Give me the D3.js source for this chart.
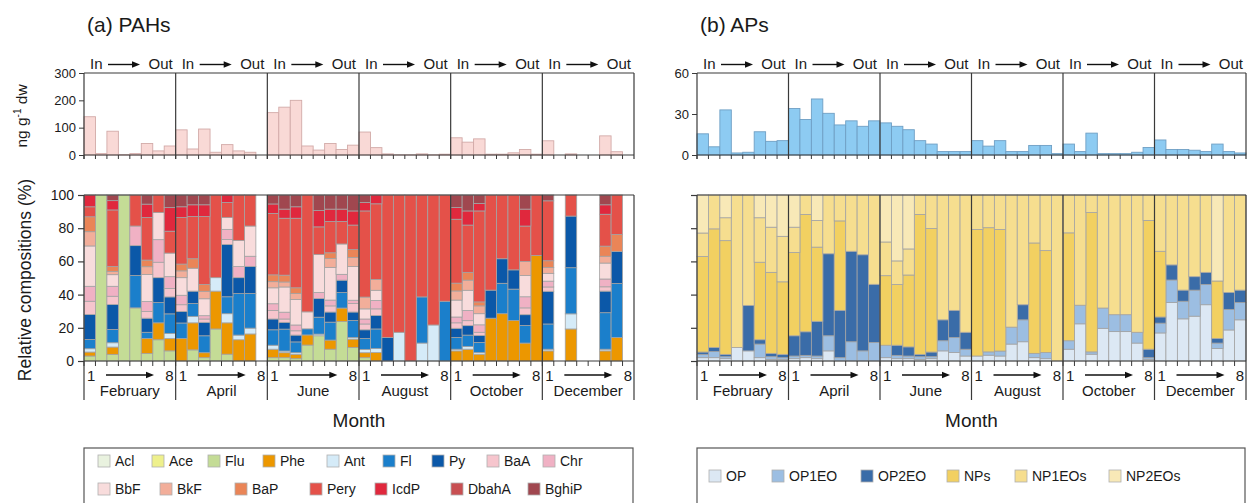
<!DOCTYPE html>
<html>
<head>
<meta charset="utf-8">
<script src="https://cdn.jsdelivr.net/npm/d3@7"></script>
<style>
  body { margin: 0; background: #fff; }
  svg text { font-family: 'Liberation Sans', Arial, sans-serif; fill: #1a1a1a; }
</style>
</head>
<body>
<svg id="chart" width="1247" height="503"></svg>
<script>
// ---- data -------------------------------------------------------------
const months = ["February", "April", "June", "August", "October", "December"];
const sitesPerMonth = 8;

const pahNames = ["Acl", "Ace", "Flu", "Phe", "Ant", "Fl", "Py", "BaA", "Chr",
                  "BbF", "BkF", "BaP", "Pery", "IcdP", "DbahA", "BghiP"];
const pahColors = ["#e9f2df", "#eef08c", "#c4dc96", "#ec9700", "#d5ebf8", "#1b7fcb",
                   "#0b58a8", "#f6c5cd", "#f0b1c4", "#f8dcdc", "#f2ae9a", "#ea8557",
                   "#e45149", "#e0283d", "#c84f52", "#a0474f"];

const apNames = ["OP", "OP1EO", "OP2EO", "NPs", "NP1EOs", "NP2EOs"];
const apColors = ["#dce8f4", "#9cbee2", "#3a6ca8", "#f2d061", "#f6de8f", "#f8e9b7"];

// total concentrations (ng g-1 dw), 8 sites per month
const pahTotals = [
  140, 5, 87, 1, 5, 42, 15, 33,
  92, 22, 95, 10, 38, 15, 10, 0,
  155, 175, 200, 33, 18, 42, 20, 36,
  84, 27, 4, 0.5, 0.5, 4, 0.5, 3,
  63, 47, 59, 3, 3, 8, 20, 3,
  52, 0, 4, 0, 0, 70, 12, 0
];
const apTotals = [
  15.5, 6, 33, 1.5, 2, 17, 10, 10.5,
  34, 26, 41, 30.5, 22, 25, 21, 25,
  23.5, 21, 18.5, 10.5, 8, 2.5, 2.5, 2.5,
  10.5, 6.5, 10.5, 2.5, 2.5, 7, 7, 1,
  8, 2.5, 16, 1, 1, 1, 2, 5.5,
  11, 4, 4, 3.5, 2.5, 8, 2.5, 1.5
];

// relative composition of PAHs (%), null = no sample
const pahComp = [
  // February
  {Flu:3, Phe:2.4, Ant:2, Fl:5.6, Py:15, BaA:8, Chr:9, BbF:24.3, BkF:8.6, BaP:9, Pery:6, IcdP:7.1},
  {Flu:100},
  {Flu:4, Phe:4.4, Ant:2.6, Fl:8, Py:15, BaA:5, Chr:6, BbF:7, BkF:2, BaP:3, Pery:34, IcdP:5.6, BghiP:3.4},
  {Flu:100},
  {Flu:32, Fl:19.5, Py:18, Chr:11.8, Pery:18.7},
  {Flu:4.5, Phe:9.1, Fl:3.7, Py:8.5, BaA:4, Chr:6, BbF:16.3, BkF:4.7, BaP:4, Pery:25.6, IcdP:8.1, BghiP:5.5},
  {Flu:12.8, Phe:10.2, Fl:12.2, Py:15, BaA:9.3, Chr:13.6, BbF:16.3, Pery:10.6},
  {Flu:6.1, Phe:7.5, Ant:3, Fl:11.8, Py:10.2, BaA:5.1, Chr:7.1, BbF:14.2, Pery:13.2, IcdP:14.2, BghiP:7.6},
  // April
  {Phe:13.6, Fl:9.3, Py:6.9, BaA:4.1, Chr:5.7, BbF:10.6, BkF:4.1, BaP:4.1, Pery:28, IcdP:6.5, BghiP:7.1},
  {Flu:6.7, Phe:16.3, Ant:3.9, Fl:7.7, Py:7.5, BbF:13.8, BaP:5.7, Pery:25.4, IcdP:7.1, BghiP:5.9},
  {Flu:2, Phe:3, Fl:10.2, Py:8.1, BaA:2, Chr:2, BbF:10.2, BkF:4.5, BaP:4.1, Pery:40.9, IcdP:7.1, BghiP:5.9},
  {Flu:19.3, Phe:22.8, Ant:8.1, Pery:49.8},
  {Flu:4.1, Phe:18.9, Ant:5.5, Fl:10.2, Py:31.5, BaA:3, Chr:6.1, BbF:7.1, Pery:9.1, IcdP:4.5},
  {Phe:12.8, Ant:2.8, Fl:25, Py:9.6, Chr:6.7, BbF:15.7, Pery:27.4},
  {Phe:16.3, Ant:3.5, Fl:20.9, Py:16.3, Chr:6.1, BbF:18.2, Pery:18.7},
  null,
  // June
  {Flu:2, Phe:5.1, Ant:2.4, Fl:9.3, Py:6.5, BaA:5.1, Chr:4.1, BbF:9.6, BkF:3.7, BaP:4.1, Pery:37, IcdP:5.7, BghiP:5.4},
  {Flu:2, Phe:3, Ant:1, Fl:13.2, Py:4.1, BaA:2, Chr:4.1, BbF:15.2, BkF:3, BaP:4.1, Pery:34.3, IcdP:5.5, BghiP:8.5},
  {Flu:1.4, Phe:2.6, Ant:1, Fl:6.5, Py:4.1, BaA:2.6, Chr:3.5, BbF:15.4, BkF:3.5, BaP:3.5, Pery:41.9, IcdP:6.9, BghiP:7.1},
  {Flu:9.6, Phe:6.1, Fl:3.7, BbF:10.2, Pery:70.4},
  {Flu:15.2, Ant:1, Fl:10.2, Py:11.2, Chr:3.7, BbF:22.8, Pery:16.7, IcdP:9.8, BghiP:9.4},
  {Flu:7.1, Phe:5.5, Fl:10.8, Py:6.1, BaA:3.7, Chr:3.5, BbF:19.7, BkF:5.3, BaP:3.5, Pery:18.8, IcdP:7.5, BghiP:8.5},
  {Flu:23.8, Phe:8.1, Fl:9.3, Py:7.5, Chr:3.5, BbF:18.3, Pery:13.5, IcdP:7.5, BghiP:8.5},
  {Flu:8.1, Phe:5.1, Ant:1, Fl:10.2, Py:5.1, BaA:5.1, Chr:2, BbF:20.3, BkF:5.5, BaP:4.7, Pery:14.8, IcdP:8.5, BghiP:9.6},
  // August
  {Flu:2, Phe:3, Ant:2, Fl:6.5, Py:5.3, BaA:3.5, Chr:3, BbF:6.1, BkF:7.1, Pery:51.9, IcdP:5.1, BghiP:4.5},
  {Phe:5.1, Ant:2.4, Fl:11.8, Py:8.1, BaA:4, Chr:5, BbF:6.2, BkF:6.5, Pery:45.6, IcdP:5.3},
  {Py:14.2, Pery:85.8},
  {Ant:17.3, Pery:82.7},
  {Pery:100},
  {Ant:10.8, Fl:27.8, Pery:61.4},
  {Ant:21.7, Pery:78.3},
  {Fl:36, Pery:64},
  // October
  {Phe:6.1, Ant:1, Fl:7.1, Py:5.5, BaA:3.3, Chr:3.5, BbF:10.2, BkF:5.5, BaP:4.7, Pery:38.5, IcdP:7.1, BghiP:7.5},
  {Phe:7.1, Ant:1.6, Fl:6.9, Py:5.7, BaA:3, Chr:6.1, BbF:12.2, BkF:6.1, BaP:4.7, Pery:28.5, IcdP:8.5, BghiP:9.6},
  {Phe:4.1, Ant:1, Fl:6.1, Py:4.1, BaA:2, Chr:4.5, BbF:6.7, BkF:4.7, BaP:2.4, Pery:54.8, IcdP:4.5, BghiP:5.1},
  {Phe:25.8, Py:16.9, Pery:57.3},
  {Phe:28.5, Fl:18.3, Py:14.8, Pery:38.4},
  {Phe:24.4, Fl:18.9, Py:11.6, Pery:45.1},
  {Phe:10.8, Fl:10.6, Py:6.5, BaA:4.1, Chr:6.7, BbF:12.8, BkF:8.5, Pery:21.3, IcdP:10.2, BghiP:8.5},
  {Phe:63.6, Pery:36.4},
  // December
  {Phe:6.1, Ant:1, Fl:15.2, Py:19.7, BaA:2.6, Chr:3.5, BbF:4.7, BkF:3.5, BaP:4.1, Pery:36.1, BghiP:3.5},
  null,
  {Phe:19.3, Ant:9.1, Fl:27.8, Py:31.1, Pery:12.7},
  null,
  null,
  {Phe:6.1, Ant:1, Fl:22, Py:13, BaA:2.6, Chr:4.7, BbF:9.6, BkF:4.1, BaP:6.1, Pery:19.2, IcdP:5.7, BghiP:5.9},
  {Phe:14.2, Fl:32.5, Py:19.3, BaP:10.2, Pery:23.8},
  null
];

// relative composition of APs (%): OP, OP1EO, OP2EO, NPs, NP1EOs, NP2EOs
const apComp = [
  // February
  [2, 2, 1.4, 57.5, 14.2, 22.9], [2, 3.7, 2.4, 71.5, 20.4, 0], [1.4, 1.2, 1.4, 68.5, 13.8, 13.7],
  [8.1, 0, 0, 0, 91.9, 0], [6.1, 0, 27.4, 0, 66.5, 0], [2, 8.2, 2.6, 46.7, 26.8, 13.7],
  [1, 1.6, 2, 48.8, 27.2, 19.4], [1, 1, 2, 43.7, 27.4, 24.9],
  // April
  [1.4, 1.6, 12.2, 50.2, 15.2, 19.4], [2, 1.4, 14.2, 70.7, 11.7, 0], [1.4, 1.6, 20.9, 44.7, 16.1, 15.3],
  [6.1, 9.1, 49.4, 0, 35.4, 0], [0, 2, 28.5, 53.9, 15.6, 0], [0, 11.6, 54.5, 0, 33.9, 0],
  [0, 6.1, 57.9, 0, 36, 0], [0, 11.2, 35, 0, 53.8, 0],
  // June
  [2, 7.5, 0, 41.9, 20.3, 28.3], [1.4, 2, 6.1, 36.6, 14.2, 39.7], [1.4, 1.6, 5.5, 43.3, 15.7, 32.5],
  [1, 1.6, 1.4, 84.3, 11.7, 0], [1.4, 1.2, 2.8, 74.4, 20.2, 0], [6.1, 6.1, 12.6, 0, 75.2, 0],
  [5.1, 9.1, 16.3, 0, 69.5, 0], [3, 4.1, 10.2, 0, 82.7, 0],
  // August
  [3, 0, 0, 76.2, 20.8, 0], [3.5, 2, 0, 74.8, 19.7, 0], [3, 3, 0, 73.2, 20.8, 0],
  [10.2, 10.2, 0, 0, 79.6, 0], [11.6, 13.2, 9.1, 0, 66.1, 0], [2, 2.6, 0, 66.5, 28.9, 0],
  [1.4, 3.7, 0, 61.4, 33.5, 0], [0, 0, 0, 0, 100, 0],
  // October
  [7.1, 5.1, 0, 65, 22.8, 0], [22.4, 11.2, 0, 0, 66.4, 0], [4.1, 1.4, 0, 83.9, 10.6, 0],
  [19.7, 12.2, 0, 0, 68.1, 0], [17.7, 10.2, 0, 0, 72.1, 0], [17.7, 10.2, 0, 0, 72.1, 0],
  [10.8, 6.5, 0, 0, 82.7, 0], [1, 1, 5.1, 77.6, 15.3, 0],
  // December
  [16.9, 5.9, 3.7, 39.6, 33.9, 0], [35.2, 13.6, 9.1, 0, 42.1, 0], [25.4, 10.6, 6.7, 0, 57.3, 0],
  [27, 15.7, 8.1, 0, 49.2, 0], [33.9, 12.2, 7.3, 0, 46.6, 0], [7.5, 3.3, 2.8, 34.6, 0, 51.8],
  [18.7, 12.4, 10.2, 0, 58.7, 0], [24.8, 10.4, 7.5, 0, 57.3, 0]
];

const pahTotalTicks = [0, 100, 200, 300];
const apTotalTicks = [0, 30, 60];
const compTicks = [0, 20, 40, 60, 80, 100];

// ---- layout -----------------------------------------------------------
const svg = d3.select("#chart");
const TOP = {y0: 155, y1: 73};
const BOT = {y0: 361, y1: 195};
const SEP_BOTTOM = 400;
const AXIS_COLOR = "#3a3a3a";

function arrow(g, xa, xb, y) {
  g.append("line").attr("x1", xa).attr("x2", xb - 6).attr("y1", y).attr("y2", y)
    .attr("stroke", "#111").attr("stroke-width", 1.4);
  g.append("path")
    .attr("d", `M${xb},${y} L${xb - 8},${y - 3.2} L${xb - 8},${y + 3.2} Z`)
    .attr("fill", "#111");
}

function drawPanel(cfg) {
  const g = svg.append("g");
  const n = months.length * sitesPerMonth;
  const x = d3.scaleBand().domain(d3.range(n)).range([cfg.x0, cfg.x1]).padding(0);
  const bw = x.bandwidth();
  const groupStarts = months.map((m, i) => x(i * sitesPerMonth));
  const groupW = bw * sitesPerMonth;
  const bounds = groupStarts.concat([cfg.x1]);

  // title
  g.append("text").attr("x", cfg.x0 + 3).attr("y", 32)
    .attr("font-size", 21).text(cfg.title);

  // ---- totals panel
  const yT = d3.scaleLinear().domain([0, cfg.totalMax]).range([TOP.y0, TOP.y1]);
  g.append("g").selectAll("rect").data(cfg.totals).join("rect")
    .attr("x", (d, i) => x(i))
    .attr("y", d => yT(d))
    .attr("width", bw)
    .attr("height", d => TOP.y0 - yT(d))
    .attr("fill", cfg.totalFill)
    .attr("stroke", cfg.totalStroke)
    .attr("stroke-width", 0.9);

  const yAxT = g.append("g").attr("transform", `translate(${cfg.x0},0)`)
    .call(d3.axisLeft(yT).tickValues(cfg.totalTicks).tickSize(5).tickSizeOuter(0));
  yAxT.select(".domain").remove();
  yAxT.selectAll(".tick line").attr("stroke", AXIS_COLOR);
  yAxT.selectAll(".tick text").attr("font-size", 13)
    .attr("font-family", "'Liberation Sans', Arial, sans-serif").attr("fill", "#1a1a1a");

  // frame lines and month separators
  g.append("line").attr("x1", cfg.x0).attr("x2", cfg.x1).attr("y1", TOP.y1).attr("y2", TOP.y1)
    .attr("stroke", AXIS_COLOR).attr("stroke-width", 1.2);
  g.append("line").attr("x1", cfg.x0).attr("x2", cfg.x1).attr("y1", TOP.y0).attr("y2", TOP.y0)
    .attr("stroke", AXIS_COLOR).attr("stroke-width", 1.2);
  g.selectAll(".sepT").data(bounds).join("line")
    .attr("x1", d => d).attr("x2", d => d).attr("y1", TOP.y1).attr("y2", TOP.y0 + 4)
    .attr("stroke", AXIS_COLOR).attr("stroke-width", 1.2);
  g.selectAll(".tickT").data(d3.range(n)).join("line")
    .attr("x1", i => x(i)).attr("x2", i => x(i)).attr("y1", TOP.y0).attr("y2", TOP.y0 + 4)
    .attr("stroke", AXIS_COLOR).attr("stroke-width", 1);

  // In -> Out labels
  groupStarts.forEach(gx => {
    g.append("text").attr("x", gx + 6).attr("y", 69).attr("font-size", 15).text("In");
    arrow(g, gx + 24, gx + 56, 64.5);
    g.append("text").attr("x", gx + groupW - 3).attr("y", 69).attr("font-size", 15)
      .attr("text-anchor", "end").text("Out");
  });

  // ---- composition panel
  const yC = d3.scaleLinear().domain([0, 100]).range([BOT.y0, BOT.y1]);
  const rows = [];
  cfg.comp.forEach((c, i) => { if (c) rows.push(Object.assign({idx: i}, c)); });
  const stack = d3.stack().keys(cfg.keys).value((d, k) => d[k] || 0);
  const series = stack(rows);
  g.append("g").selectAll("g").data(series).join("g")
    .attr("fill", (s, k) => cfg.colors[k])
    .selectAll("rect").data(s => s.filter(d => d[1] - d[0] > 0)).join("rect")
      .attr("x", d => x(d.data.idx))
      .attr("y", d => yC(d[1]))
      .attr("width", bw)
      .attr("height", d => yC(d[0]) - yC(d[1]))
      .attr("stroke", "#a3a3a3")
      .attr("stroke-width", 0.8);

  const yAxC = g.append("g").attr("transform", `translate(${cfg.x0},0)`)
    .call(d3.axisLeft(yC).tickValues(compTicks).tickSize(6).tickSizeOuter(0)
      .tickFormat(cfg.compLabels ? d3.format("d") : ""));
  yAxC.select(".domain").remove();
  yAxC.selectAll(".tick line").attr("stroke", AXIS_COLOR).attr("stroke-width", 1.2);
  yAxC.selectAll(".tick text").attr("font-size", 14).attr("x", -10)
    .attr("font-family", "'Liberation Sans', Arial, sans-serif").attr("fill", "#1a1a1a");

  g.append("line").attr("x1", cfg.x0).attr("x2", cfg.x1).attr("y1", BOT.y1).attr("y2", BOT.y1)
    .attr("stroke", AXIS_COLOR).attr("stroke-width", 1.2);
  g.append("line").attr("x1", cfg.x0).attr("x2", cfg.x1).attr("y1", BOT.y0).attr("y2", BOT.y0)
    .attr("stroke", AXIS_COLOR).attr("stroke-width", 1.2);
  g.selectAll(".sepB").data(bounds).join("line")
    .attr("x1", d => d).attr("x2", d => d).attr("y1", BOT.y1).attr("y2", SEP_BOTTOM)
    .attr("stroke", AXIS_COLOR).attr("stroke-width", 1.2);
  g.selectAll(".tickB").data(d3.range(n)).join("line")
    .attr("x1", i => x(i)).attr("x2", i => x(i)).attr("y1", BOT.y0).attr("y2", BOT.y0 + 5)
    .attr("stroke", AXIS_COLOR).attr("stroke-width", 1);

  // site order and month names
  groupStarts.forEach((gx, i) => {
    g.append("text").attr("x", gx + 3).attr("y", 381).attr("font-size", 15).text("1");
    arrow(g, gx + 22, gx + 70, 375);
    g.append("text").attr("x", gx + groupW - 2).attr("y", 381).attr("font-size", 15)
      .attr("text-anchor", "end").text(sitesPerMonth);
    g.append("text").attr("x", gx + groupW / 2).attr("y", 396).attr("font-size", 15)
      .attr("text-anchor", "middle").text(months[i]);
  });

  g.append("text").attr("x", (cfg.x0 + cfg.x1) / 2).attr("y", 427)
    .attr("font-size", 19).attr("text-anchor", "middle").text("Month");

  // legend
  const leg = g.append("g");
  leg.append("rect").attr("x", cfg.x0).attr("y", 448)
    .attr("width", cfg.x1 - cfg.x0 - 1).attr("height", 70)
    .attr("fill", "none").attr("stroke", "#555").attr("stroke-width", 1.2);
  cfg.legend.forEach((it, k) => {
    const li = leg.append("g").attr("transform", `translate(${it[0]},${it[1]})`);
    li.append("rect").attr("x", 0).attr("y", -6).attr("width", 12).attr("height", 12)
      .attr("fill", cfg.colors[k]).attr("stroke", "#b0b0b0").attr("stroke-width", 0.8);
    li.append("text").attr("x", 17).attr("y", 5).attr("font-size", 14).text(cfg.keys[k]);
  });

  return g;
}

// legend slots
const pahLegendPos = [
  [98, 461], [152, 461], [208, 461], [263, 461], [327, 461], [383, 461], [432, 461], [487, 461], [543, 461],
  [98, 489], [160, 489], [235, 489], [310, 489], [375, 489], [451, 489], [528, 489]
];
const apLegendPos = [[709, 476], [772, 476], [861, 476], [947, 476], [1015, 476], [1109, 476]];

drawPanel({
  title: "(a) PAHs", x0: 84, x1: 634,
  totals: pahTotals, totalMax: 300, totalTicks: pahTotalTicks,
  totalFill: "#f9d9d6", totalStroke: "#d2aaa8",
  comp: pahComp, keys: pahNames, colors: pahColors, compLabels: true,
  legend: pahLegendPos
});
drawPanel({
  title: "(b) APs", x0: 697, x1: 1246,
  totals: apTotals, totalMax: 60, totalTicks: apTotalTicks,
  totalFill: "#8dcbf2", totalStroke: "#6f9fc4",
  comp: apComp.map(r => Object.fromEntries(apNames.map((k, j) => [k, r[j]]))),
  keys: apNames, colors: apColors, compLabels: false,
  legend: apLegendPos
});

// y-axis titles
const yt1 = svg.append("text").attr("transform", "translate(27,116) rotate(-90)")
  .attr("text-anchor", "middle").attr("font-size", 15.5);
yt1.append("tspan").text("ng g");
yt1.append("tspan").attr("dy", -6).attr("font-size", 10).text("-1");
yt1.append("tspan").attr("dy", 6).text(" dw");

svg.append("text").attr("transform", "translate(31,280) rotate(-90)")
  .attr("text-anchor", "middle").attr("font-size", 17.5).text("Relative compositions (%)");
</script>
</body>
</html>
